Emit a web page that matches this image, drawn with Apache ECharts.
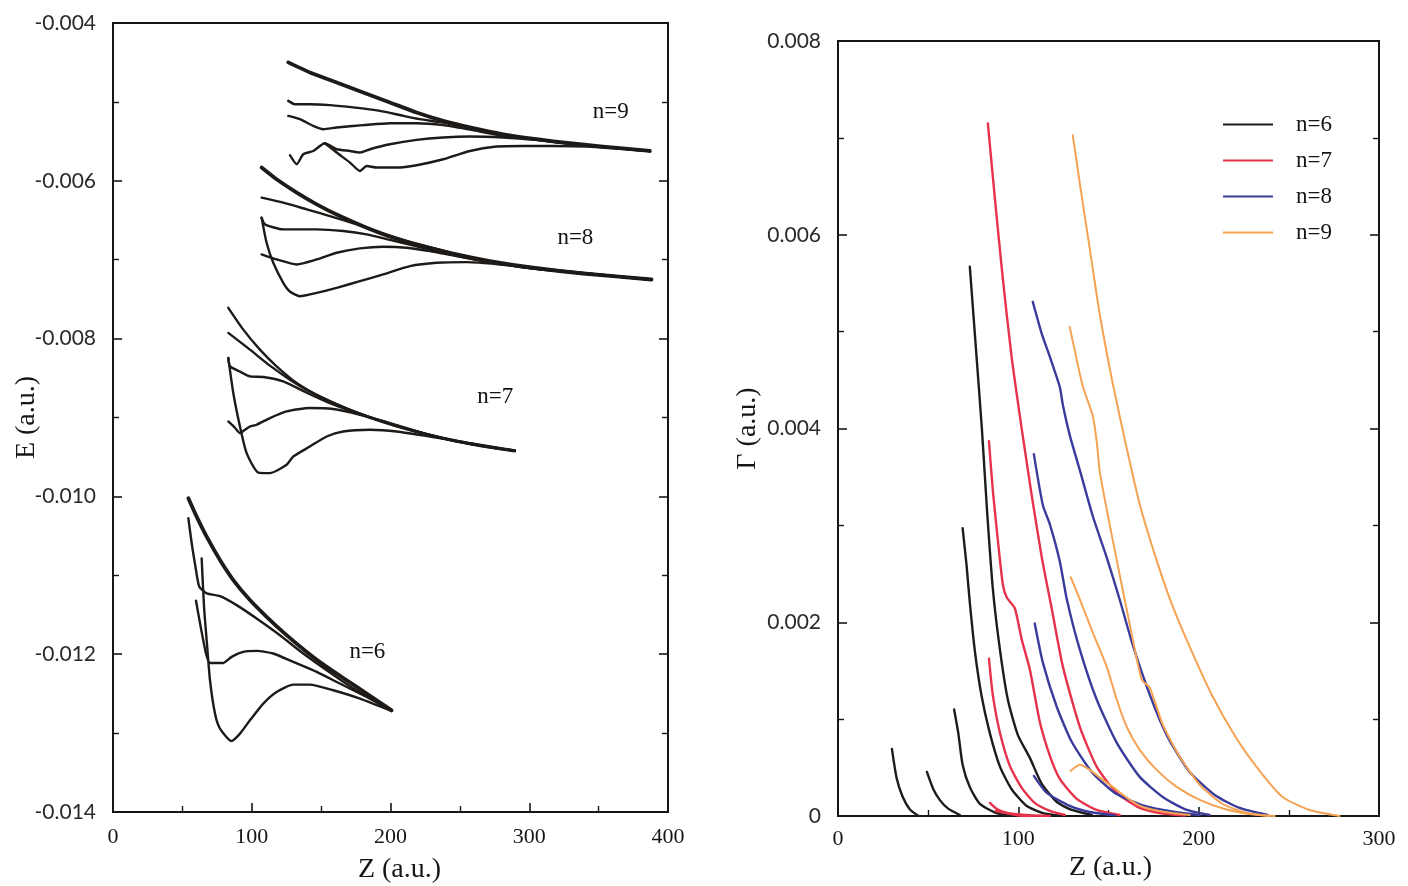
<!DOCTYPE html>
<html><head><meta charset="utf-8">
<script src="https://cdn.jsdelivr.net/npm/echarts@6/dist/echarts.min.js"></script>
<style>html,body{margin:0;padding:0;background:#fff}#c{width:1408px;height:886px}</style>
</head><body><div id="c"></div>
<script>
// ===== Left panel: E (a.u.) versus Z (a.u.) =====
const n6_1_Z=[54.3,60.3,67.5,77.1,86.7,98.7,110.7,125.1,139.6,154.0,168.4,182.8,200.8];
const n6_1_E=[-10.023e-3,-10.257e-3,-10.511e-3,-10.806e-3,-11.060e-3,-11.314e-3,-11.526e-3,-11.759e-3,-11.971e-3,-12.161e-3,-12.330e-3,-12.499e-3,-12.711e-3];
const n6_2_Z=[54.3,56.9,59.8,62.2,67.5,77.1,89.1,103.5,120.3,137.1,154.0,173.1,200.8];
const n6_2_E=[-10.277e-3,-10.616e-3,-10.933e-3,-11.145e-3,-11.229e-3,-11.264e-3,-11.378e-3,-11.547e-3,-11.759e-3,-11.991e-3,-12.203e-3,-12.432e-3,-12.720e-3];
const n6_3_Z=[59.8,63.4,67.0,69.9,79.5,85.5,93.9,103.5,115.5,129.9,146.8,163.5,182.8,200.8];
const n6_3_E=[-11.323e-3,-11.670e-3,-11.991e-3,-12.111e-3,-12.111e-3,-12.034e-3,-11.971e-3,-11.958e-3,-11.991e-3,-12.098e-3,-12.225e-3,-12.372e-3,-12.542e-3,-12.711e-3];
const n6_4_Z=[63.9,65.6,67.5,69.9,73.5,77.1,85.5,91.5,98.7,108.3,117.9,129.9,141.9,158.7,178.0,200.8];
const n6_4_E=[-10.785e-3,-11.399e-3,-11.822e-3,-12.330e-3,-12.753e-3,-12.944e-3,-13.101e-3,-13.007e-3,-12.838e-3,-12.626e-3,-12.479e-3,-12.385e-3,-12.385e-3,-12.457e-3,-12.563e-3,-12.720e-3];

const n7_1_Z=[83.1,93.9,105.9,117.9,132.4,149.1,170.8,194.7,218.8,242.8,266.8,289.6];
const n7_1_E=[-7.610e-3,-7.886e-3,-8.140e-3,-8.352e-3,-8.563e-3,-8.733e-3,-8.902e-3,-9.050e-3,-9.177e-3,-9.283e-3,-9.368e-3,-9.418e-3];
const n7_2_Z=[83.1,98.7,113.1,127.5,141.9,158.7,178.0,202.0,226.0,250.0,289.6];
const n7_2_E=[-7.928e-3,-8.140e-3,-8.343e-3,-8.521e-3,-8.673e-3,-8.813e-3,-8.950e-3,-9.095e-3,-9.212e-3,-9.312e-3,-9.422e-3];
const n7_3_Z=[83.1,84.3,91.5,98.7,108.3,122.7,139.6,156.3,178.0,202.0,228.4,257.2,289.6];
const n7_3_E=[-8.245e-3,-8.352e-3,-8.419e-3,-8.479e-3,-8.486e-3,-8.542e-3,-8.686e-3,-8.819e-3,-8.959e-3,-9.098e-3,-9.225e-3,-9.333e-3,-9.429e-3];
const n7_4_Z=[83.1,86.7,91.5,96.3,104.7,113.1,125.1,129.9,141.9,154.0,165.9,185.2,204.4,228.4,257.2,289.6];
const n7_4_E=[-8.245e-3,-8.690e-3,-9.114e-3,-9.451e-3,-9.698e-3,-9.705e-3,-9.600e-3,-9.495e-3,-9.368e-3,-9.241e-3,-9.177e-3,-9.156e-3,-9.177e-3,-9.241e-3,-9.324e-3,-9.418e-3];
const n7_5_Z=[83.1,87.9,91.5,95.1,98.7,103.5,113.1,125.1,141.9,158.7,178.0,199.6,223.6,250.0,289.6];
const n7_5_E=[-9.050e-3,-9.130e-3,-9.198e-3,-9.156e-3,-9.114e-3,-9.092e-3,-9.007e-3,-8.923e-3,-8.880e-3,-8.893e-3,-8.965e-3,-9.071e-3,-9.198e-3,-9.302e-3,-9.422e-3];

const n8_1_Z=[107.1,117.9,132.4,146.8,163.5,182.8,202.0,223.6,247.6,271.6,302.8,338.8,388.1];
const n8_1_E=[-5.832e-3,-5.981e-3,-6.150e-3,-6.298e-3,-6.447e-3,-6.594e-3,-6.721e-3,-6.828e-3,-6.933e-3,-7.018e-3,-7.102e-3,-7.175e-3,-7.251e-3];
const n8_2_Z=[107.1,122.7,139.6,156.3,175.6,194.7,214.0,235.6,264.4,300.4,388.1];
const n8_2_E=[-6.213e-3,-6.277e-3,-6.362e-3,-6.447e-3,-6.552e-3,-6.667e-3,-6.775e-3,-6.876e-3,-6.997e-3,-7.105e-3,-7.251e-3];
const n8_3_Z=[107.1,109.5,122.7,146.8,165.9,182.8,199.6,218.8,238.0,262.0,300.4,388.1];
const n8_3_E=[-6.467e-3,-6.552e-3,-6.616e-3,-6.616e-3,-6.637e-3,-6.679e-3,-6.749e-3,-6.832e-3,-6.914e-3,-7.003e-3,-7.109e-3,-7.251e-3];
const n8_4_Z=[107.1,110.7,115.5,122.7,127.5,134.7,146.8,161.2,178.0,194.7,214.0,233.2,254.8,278.8,307.6,388.1];
const n8_4_E=[-6.467e-3,-6.785e-3,-7.039e-3,-7.293e-3,-7.403e-3,-7.463e-3,-7.420e-3,-7.356e-3,-7.272e-3,-7.187e-3,-7.082e-3,-7.039e-3,-7.031e-3,-7.060e-3,-7.117e-3,-7.255e-3];
const n8_5_Z=[107.1,117.9,132.4,146.8,161.2,178.0,194.7,211.6,228.4,247.6,271.6,307.6,388.1];
const n8_5_E=[-6.933e-3,-6.997e-3,-7.060e-3,-6.997e-3,-6.912e-3,-6.857e-3,-6.836e-3,-6.848e-3,-6.891e-3,-6.955e-3,-7.029e-3,-7.111e-3,-7.251e-3];

const n9_1_Z=[126.3,141.9,161.2,180.3,199.6,218.8,238.0,257.2,281.2,305.3,329.3,353.2,386.9];
const n9_1_E=[-4.499e-3,-4.626e-3,-4.753e-3,-4.880e-3,-5.007e-3,-5.134e-3,-5.241e-3,-5.324e-3,-5.410e-3,-5.473e-3,-5.524e-3,-5.566e-3,-5.622e-3];
const n9_2_Z=[126.3,131.1,141.9,156.3,173.1,192.4,209.2,221.2,238.0,257.2,281.2,305.3,329.3,353.2,386.9];
const n9_2_E=[-4.987e-3,-5.029e-3,-5.029e-3,-5.041e-3,-5.070e-3,-5.114e-3,-5.177e-3,-5.219e-3,-5.263e-3,-5.333e-3,-5.413e-3,-5.476e-3,-5.527e-3,-5.568e-3,-5.622e-3];
const n9_3_Z=[126.3,134.7,144.3,151.5,161.2,180.3,199.6,218.8,238.0,257.2,281.2,307.6,329.3,353.2,386.9];
const n9_3_E=[-5.177e-3,-5.219e-3,-5.304e-3,-5.346e-3,-5.324e-3,-5.295e-3,-5.270e-3,-5.270e-3,-5.295e-3,-5.352e-3,-5.429e-3,-5.486e-3,-5.530e-3,-5.570e-3,-5.623e-3];
const n9_4_Z=[127.5,132.4,137.1,144.3,152.7,161.2,170.8,178.0,185.2,199.6,218.8,238.0,257.2,281.2,305.3,329.3,353.2,386.9];
const n9_4_E=[-5.676e-3,-5.790e-3,-5.663e-3,-5.622e-3,-5.524e-3,-5.600e-3,-5.622e-3,-5.642e-3,-5.600e-3,-5.537e-3,-5.482e-3,-5.451e-3,-5.439e-3,-5.451e-3,-5.482e-3,-5.528e-3,-5.570e-3,-5.623e-3];
const n9_5_Z=[152.7,161.2,170.8,178.0,182.8,190.0,204.4,218.8,238.0,257.2,276.4,295.6,317.2,341.3,386.9];
const n9_5_E=[-5.524e-3,-5.642e-3,-5.769e-3,-5.876e-3,-5.812e-3,-5.832e-3,-5.832e-3,-5.803e-3,-5.727e-3,-5.622e-3,-5.566e-3,-5.558e-3,-5.558e-3,-5.566e-3,-5.624e-3];

// ===== Right panel: Γ (a.u.) versus Z (a.u.) =====
const g6_1_Z=[29.9,32.5,35.8,39.9,44.5];
const g6_1_G=[0.693e-3,0.393e-3,0.202e-3,0.067e-3,0.002e-3];
const g6_2_Z=[49.3,52.8,56.5,61.1,67.6];
const g6_2_G=[0.455e-3,0.279e-3,0.164e-3,0.076e-3,0.010e-3];
const g6_3_Z=[64.4,66.7,69.1,73.1,78.7,87.9,97.1];
const g6_3_G=[1.099e-3,0.856e-3,0.529e-3,0.298e-3,0.125e-3,0.029e-3,0.002e-3];
const g6_4_Z=[69.1,71.3,73.1,75.9,79.6,84.2,89.8,96.2,104.5,113.7,123.0];
const g6_4_G=[2.972e-3,2.587e-3,2.202e-3,1.702e-3,1.241e-3,0.856e-3,0.510e-3,0.279e-3,0.106e-3,0.029e-3,0.002e-3];
const g6_5_Z=[73.1,76.5,79.8,82.6,85.9,89.8,94.2,99.7,106.4,113.0,121.3,129.6,140.7];
const g6_5_G=[5.670e-3,4.822e-3,3.994e-3,3.166e-3,2.338e-3,1.718e-3,1.200e-3,0.838e-3,0.600e-3,0.331e-3,0.145e-3,0.062e-3,0.010e-3];

const g7_1_Z=[83.1,87.0,91.4,96.4,101.9,107.5,113.0,118.6,124.7,134.1,143.5,154.6,167.3,178.4,192.2];
const g7_1_G=[7.150e-3,6.374e-3,5.546e-3,4.718e-3,3.994e-3,3.301e-3,2.670e-3,2.132e-3,1.542e-3,0.921e-3,0.507e-3,0.238e-3,0.083e-3,0.031e-3,0.005e-3];
const g7_2_Z=[83.7,85.9,88.6,91.4,93.6,98.1,101.9,106.4,111.9,117.5,123.0,132.4,143.5,156.2];
const g7_2_G=[3.870e-3,3.352e-3,2.856e-3,2.390e-3,2.256e-3,2.142e-3,1.821e-3,1.511e-3,0.973e-3,0.621e-3,0.383e-3,0.176e-3,0.062e-3,0.010e-3];
const g7_3_Z=[83.7,85.9,89.8,95.3,101.9,109.1,117.5,125.8];
const g7_3_G=[1.625e-3,1.242e-3,0.859e-3,0.517e-3,0.290e-3,0.135e-3,0.052e-3,0.010e-3];
const g7_4_Z=[84.2,88.1,93.6,100.8,109.1];
const g7_4_G=[0.135e-3,0.072e-3,0.031e-3,0.005e-3,0];
const g7_5_Z=[87.5,95.3,106.4,117.5];
const g7_5_G=[0.052e-3,0.026e-3,0.007e-3,0];

const g8_1_Z=[108.0,113.0,117.5,123.0,124.7,128.5,134.1,141.3,149.0,156.2,163.4,172.9,182.8,195.0,208.9,222.7,238.2];
const g8_1_G=[5.308e-3,4.977e-3,4.739e-3,4.429e-3,4.242e-3,3.932e-3,3.570e-3,3.094e-3,2.670e-3,2.235e-3,1.769e-3,1.252e-3,0.817e-3,0.455e-3,0.217e-3,0.083e-3,0.010e-3];
const g8_2_Z=[108.6,113.6,117.5,123.0,126.9,134.1,143.5,154.6,167.3,180.1,192.2,206.1];
const g8_2_G=[3.735e-3,3.208e-3,3.011e-3,2.628e-3,2.235e-3,1.718e-3,1.200e-3,0.755e-3,0.404e-3,0.197e-3,0.072e-3,0.010e-3];
const g8_3_Z=[109.1,113.6,121.3,129.6,140.7,153.5,170.1,186.7,200.6];
const g8_3_G=[1.987e-3,1.583e-3,1.128e-3,0.766e-3,0.455e-3,0.238e-3,0.104e-3,0.041e-3,0.010e-3];
const g8_4_Z=[108.6,115.8,128.5,139.6,153.5];
const g8_4_G=[0.414e-3,0.238e-3,0.104e-3,0.041e-3,0.007e-3];

const g9_1_Z=[130.2,134.1,139.6,145.2,152.4,160.1,167.3,176.7,185.6,196.7,207.8,221.1,233.8,246.5,261.5,278.1];
const g9_1_G=[7.026e-3,6.529e-3,5.856e-3,5.174e-3,4.460e-3,3.797e-3,3.218e-3,2.639e-3,2.163e-3,1.676e-3,1.231e-3,0.797e-3,0.466e-3,0.197e-3,0.062e-3,0];
const g9_2_Z=[128.5,132.4,135.7,141.3,143.5,145.2,149.0,154.6,161.8,168.4,172.9,180.1,189.5,200.6,213.3,226.6,239.3];
const g9_2_G=[5.049e-3,4.708e-3,4.439e-3,4.129e-3,3.859e-3,3.549e-3,3.166e-3,2.639e-3,1.976e-3,1.407e-3,1.324e-3,0.942e-3,0.611e-3,0.321e-3,0.124e-3,0.031e-3,0];
const g9_3_Z=[129.1,134.1,141.3,149.0,154.6,160.1,167.3,176.7,187.8,200.6,214.4,228.3,242.1];
const g9_3_G=[2.463e-3,2.235e-3,1.894e-3,1.542e-3,1.200e-3,0.921e-3,0.683e-3,0.476e-3,0.300e-3,0.166e-3,0.072e-3,0.021e-3,0];
const g9_4_Z=[129.1,134.1,139.6,146.8,154.6,161.8,169.0,181.2,195.0];
const g9_4_G=[0.466e-3,0.528e-3,0.476e-3,0.373e-3,0.269e-3,0.166e-3,0.093e-3,0.041e-3,0.010e-3];

// ===== Labels =====
const seriesNames=['n=6','n=7','n=8','n=9'];
const annotText=['n=6','n=7','n=8','n=9'];
const annotZ=[183.7,275.9,333.6,359.1];
const annotE=[-11.981e-3,-8.743e-3,-6.730e-3,-5.130e-3];

// ===== Build =====
const zip=(a,b)=>a.map((v,i)=>[v,b[i]]);
const SERIF="'Liberation Serif','Times New Roman',serif";
const SANS="Lato,'Open Sans',sans-serif";
const INK='#161616';
const palette={'n=6':'#1c1c1c','n=7':'#e6324b','n=8':'#3a3c9c','n=9':'#f5a353'};

const leftCurves=[
 [n6_1_Z,n6_1_E,true],[n6_2_Z,n6_2_E],[n6_3_Z,n6_3_E],[n6_4_Z,n6_4_E],
 [n7_1_Z,n7_1_E],[n7_2_Z,n7_2_E],[n7_3_Z,n7_3_E],[n7_4_Z,n7_4_E],[n7_5_Z,n7_5_E],
 [n8_1_Z,n8_1_E,true],[n8_2_Z,n8_2_E],[n8_3_Z,n8_3_E],[n8_4_Z,n8_4_E],[n8_5_Z,n8_5_E],
 [n9_1_Z,n9_1_E,true],[n9_2_Z,n9_2_E],[n9_3_Z,n9_3_E],[n9_4_Z,n9_4_E],[n9_5_Z,n9_5_E]
];
const rightCurves=[
 ['n=6',g6_1_Z,g6_1_G],['n=6',g6_2_Z,g6_2_G],['n=6',g6_3_Z,g6_3_G],['n=6',g6_4_Z,g6_4_G],['n=6',g6_5_Z,g6_5_G],
 ['n=7',g7_1_Z,g7_1_G],['n=7',g7_2_Z,g7_2_G],['n=7',g7_3_Z,g7_3_G],['n=7',g7_4_Z,g7_4_G],['n=7',g7_5_Z,g7_5_G],
 ['n=8',g8_1_Z,g8_1_G],['n=8',g8_2_Z,g8_2_G],['n=8',g8_3_Z,g8_3_G],['n=8',g8_4_Z,g8_4_G],
 ['n=9',g9_1_Z,g9_1_G],['n=9',g9_2_Z,g9_2_G],['n=9',g9_3_Z,g9_3_G],['n=9',g9_4_Z,g9_4_G]
];

const series=[];
leftCurves.forEach((c,i)=>{
  series.push({type:'line',name:'E'+i,xAxisIndex:0,yAxisIndex:0,data:zip(c[0],c[1]),
    symbol:'none',smooth:0.2,
    lineStyle:{color:'#1d1a18',width:c[2]?3.8:2.4,join:'round',cap:'round'},z:3});
});
rightCurves.forEach(c=>{
  series.push({type:'line',name:c[0],xAxisIndex:2,yAxisIndex:2,data:zip(c[1],c[2]),
    symbol:'none',smooth:0.2,color:palette[c[0]],
    lineStyle:{color:palette[c[0]],width:c[0]==='n=9'?2.0:2.4,join:'round',cap:'round'},z:3});
});
series.push({type:'scatter',name:'annot',xAxisIndex:0,yAxisIndex:0,symbolSize:1,
  itemStyle:{color:'rgba(255,255,255,0)'},silent:true,
  data:annotZ.map((z,i)=>({value:[z,annotE[i]],label:{formatter:annotText[i]}})),
  label:{show:true,position:[0,0],align:'center',verticalAlign:'middle',
    fontFamily:SERIF,fontSize:23,color:'#111',opacity:1}});

const tickCommon={inside:true,length:9,lineStyle:{color:INK,width:1.6}};
const minorCommon={show:true,splitNumber:2,length:6,lineStyle:{color:INK,width:1.4}};
const lineCommon={show:true,onZero:false,lineStyle:{color:INK,width:2}};

function xAx(grid,max,margin,nameGap,pad){return {gridIndex:grid,type:'value',min:0,max:max,interval:100,
  axisLine:lineCommon,axisTick:tickCommon,minorTick:minorCommon,splitLine:{show:false},
  axisLabel:{fontFamily:SERIF,fontSize:22,color:INK,margin:margin},
  name:'Z (a.u.)',nameLocation:'middle',nameGap:nameGap,nameMoveOverlap:false,
  nameTextStyle:{fontFamily:SERIF,fontSize:28,color:INK,padding:pad}};}
function yAx(grid,min,max,fmt,name,nameGap){return {gridIndex:grid,type:'value',min:min,max:max,interval:0.002,
  axisLine:lineCommon,axisTick:tickCommon,minorTick:minorCommon,splitLine:{show:false},
  axisLabel:{fontFamily:SANS,fontSize:21,color:'#2a2a2a',margin:17,formatter:fmt},
  name:name,nameLocation:'middle',nameGap:nameGap,nameMoveOverlap:false,
  nameTextStyle:{fontFamily:SERIF,fontSize:28,color:INK}};}
function yMirror(grid,min,max){return {gridIndex:grid,type:'value',position:'right',min:min,max:max,interval:0.002,
  axisLine:lineCommon,axisTick:tickCommon,minorTick:minorCommon,splitLine:{show:false},axisLabel:{show:false}};}

const option={
  animation:false,
  backgroundColor:'#fff',
  grid:[
    {left:113,right:740,top:23,bottom:74,show:true,borderColor:INK,borderWidth:2,backgroundColor:'transparent',outerBoundsMode:'none',containLabel:false},
    {left:838,right:29,top:41,bottom:70,show:true,borderColor:INK,borderWidth:2,backgroundColor:'transparent',outerBoundsMode:'none',containLabel:false}
  ],
  xAxis:[xAx(0,400,14,44,[0,0,0,18]),
         {gridIndex:0,type:'value',position:'top',min:0,max:400,show:false},
         xAx(1,300,12,38,[0,0,0,4])],
  yAxis:[yAx(0,-0.014,-0.004,v=>v.toFixed(3),'E (a.u.)',72),
         yMirror(0,-0.014,-0.004),
         yAx(1,0,0.008,v=>Math.abs(v)<1e-12?'0':v.toFixed(3),'Γ (a.u.)',76),
         yMirror(1,0,0.008)],
  legend:{data:seriesNames,orient:'vertical',left:1223,top:113,padding:0,itemWidth:50,itemHeight:14,itemGap:13,
    icon:'path://M0,6 L50,6 L50,8 L0,8 Z',
    textStyle:{fontFamily:SERIF,fontSize:23,color:INK,lineHeight:23,padding:[0,0,0,18]}},
  series:series
};
const chart=echarts.init(document.getElementById('c'),null,{renderer:'canvas'});
chart.setOption(option);
</script></body></html>
